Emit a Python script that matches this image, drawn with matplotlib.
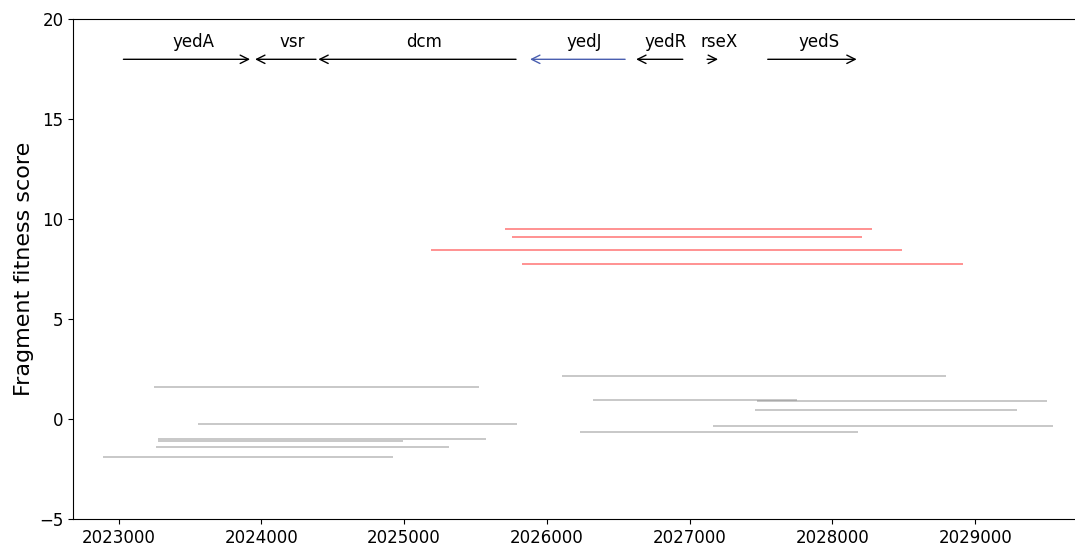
import matplotlib
matplotlib.use("Agg")
import matplotlib.pyplot as plt

# Genes in the region: name, start, end, strand
gene_names = ["yedA", "vsr", "dcm", "yedJ", "yedR", "rseX", "yedS"]
gene_starts = [2023034, 2023956, 2024399, 2025882, 2026625, 2027122, 2027547]
gene_ends = [2023921, 2024383, 2025784, 2026548, 2026952, 2027199, 2028170]
gene_strands = ["+", "-", "-", "-", "-", "+", "+"]
highlight_gene = "yedJ"

# Fragments with strong fitness (red)
hit_starts = [2025708, 2025757, 2025185, 2025826]
hit_ends = [2028276, 2028210, 2028490, 2028915]
hit_scores = [9.50, 9.10, 8.45, 7.76]

# Remaining fragments (grey)
bg_starts = [2023251, 2023559, 2023279, 2023279, 2023265, 2022894,
             2026108, 2026323, 2027474, 2027457, 2027166, 2026234]
bg_ends = [2025527, 2025789, 2025572, 2024991, 2025313, 2024925,
           2028796, 2027752, 2029500, 2029290, 2029544, 2028182]
bg_scores = [1.62, -0.22, -1.00, -1.085, -1.40, -1.90,
             2.18, 0.97, 0.90, 0.475, -0.345, -0.615]

x_ticks = [2023000, 2024000, 2025000, 2026000, 2027000, 2028000, 2029000]
y_ticks = [-5, 0, 5, 10, 15, 20]

fig = plt.figure(figsize=(10.75, 5.48), dpi=100)
ax = fig.add_axes([0.06819, 0.05237, 0.9399, 0.91241])

for s, e, v in zip(bg_starts, bg_ends, bg_scores):
    ax.plot([s, e], [v, v], color="grey", alpha=0.5, lw=1.2, solid_capstyle="butt")
for s, e, v in zip(hit_starts, hit_ends, hit_scores):
    ax.plot([s, e], [v, v], color="red", alpha=0.5, lw=1.2, solid_capstyle="butt")

arrow_y = 18.0
label_y = 18.88
for name, s, e, strand in zip(gene_names, gene_starts, gene_ends, gene_strands):
    color = "#4a5fb0" if name == highlight_gene else "black"
    tail, head = (s, e) if strand == "+" else (e, s)
    ax.annotate("", xy=(head, arrow_y), xytext=(tail, arrow_y),
                arrowprops=dict(arrowstyle="->", color=color, lw=1.0,
                                mutation_scale=15, shrinkA=0, shrinkB=0))
    ax.text((s + e) / 2 + 45, label_y, name, ha="center", va="center",
            fontsize=12, color="black")

ax.set_xlim(2022683, 2029760)
ax.set_ylim(-5, 20)
ax.set_xticks(x_ticks)
ax.set_xticklabels([str(t) for t in x_ticks])
ax.set_yticks(y_ticks)
ax.tick_params(labelsize=12)
ax.set_ylabel("Fragment fitness score", fontsize=16)

fig.savefig("out.png", dpi=100)
